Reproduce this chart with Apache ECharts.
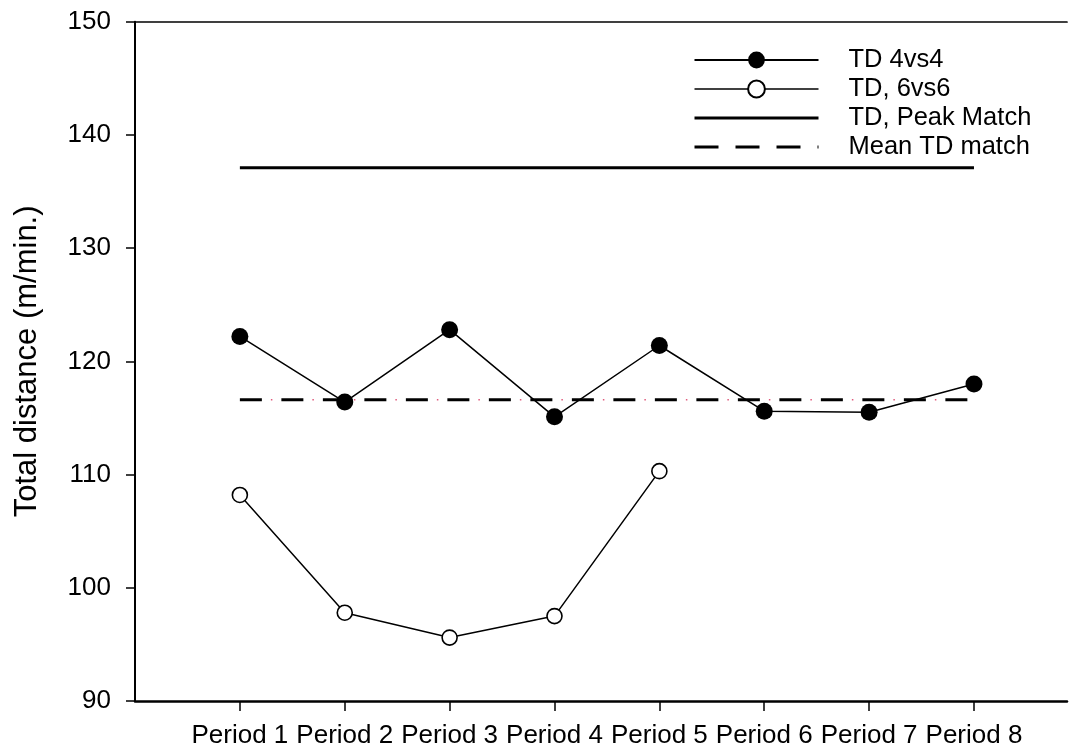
<!DOCTYPE html>
<html>
<head>
<meta charset="utf-8">
<title>Total distance per period</title>
<script src="https://cdn.jsdelivr.net/npm/echarts@6/dist/echarts.min.js"></script>
<style>
  html, body { margin: 0; padding: 0; background: #fff; }
  #chart { width: 1070px; height: 753px; }
</style>
</head>
<body>
<div id="chart"></div>
<script>
// Periods along the x axis
const categories = ['Period 1', 'Period 2', 'Period 3', 'Period 4', 'Period 5', 'Period 6', 'Period 7', 'Period 8'];
// Total distance (m/min.) per period
const td4vs4 = [122.2, 116.4, 122.8, 115.1, 121.4, 115.6, 115.5, 118.0];
const td6vs6 = [108.2, 97.8, 95.6, 97.5, 110.3];
// Match reference levels
const peakMatch = 137.1;
const meanMatch = 116.6;
// Y axis ticks
const yTicks = [90, 100, 110, 120, 130, 140, 150];

const FONT = '"Liberation Sans", Arial, Helvetica, sans-serif';
const positions = categories.map((c, i) => i + 1);
const toPoints = arr => arr.map((v, i) => [i + 1, v]);
const levelLine = v => [[1, v], [categories.length, v]];
// legend entries for plain lines carry no marker
const noMarker = { color: 'rgba(0,0,0,0)', borderWidth: 0, opacity: 0 };

const chart = echarts.init(document.getElementById('chart'), null, { renderer: 'canvas' });

chart.setOption({
  animation: false,
  backgroundColor: '#fff',
  grid: { left: 135, top: 21.7, right: 3, bottom: 52, containLabel: false },
  legend: {
    orient: 'vertical',
    left: 688,
    top: 40.5,
    itemWidth: 124,
    itemHeight: 21,
    itemGap: 0,
    selectedMode: false,
    data: [
      { name: 'TD 4vs4', lineStyle: { width: 1.8 } },
      { name: 'TD, 6vs6', lineStyle: { width: 1.6 } },
      { name: 'TD, Peak Match', itemStyle: noMarker, lineStyle: { width: 3 } },
      { name: 'Mean TD match', itemStyle: noMarker, lineStyle: { width: 3, type: [24, 17] } }
    ],
    textStyle: { fontSize: 25.5, fontFamily: FONT, color: '#000', lineHeight: 29, padding: [0, 0, 0, 25] }
  },
  xAxis: [
    {
      type: 'value',
      min: 0,
      max: 8.887,
      interval: 1,
      position: 'bottom',
      splitLine: { show: false },
      axisLine: { show: true, lineStyle: { color: '#000', width: 2.5 } },
      axisTick: { show: true, inside: false, length: 10, lineStyle: { color: '#000', width: 1.5 }, customValues: positions },
      axisLabel: {
        margin: 22,
        fontSize: 26,
        fontFamily: FONT,
        color: '#000',
        customValues: positions,
        formatter: v => categories[Math.round(v) - 1] || ''
      }
    },
    {
      type: 'value',
      min: 0,
      max: 8.887,
      position: 'top',
      splitLine: { show: false },
      axisLine: { show: true, lineStyle: { color: '#000', width: 1.7 } },
      axisTick: { show: false },
      axisLabel: { show: false }
    }
  ],
  yAxis: {
    type: 'value',
    min: yTicks[0],
    max: yTicks[yTicks.length - 1],
    interval: 10,
    name: 'Total distance (m/min.)',
    nameLocation: 'middle',
    nameRotate: 90,
    nameGap: 92,
    nameTextStyle: { fontSize: 31, fontFamily: FONT, color: '#000' },
    splitLine: { show: false },
    axisLine: { show: true, lineStyle: { color: '#000', width: 2 } },
    axisTick: { show: true, inside: false, length: 9, lineStyle: { color: '#000', width: 1.5 } },
    axisLabel: { margin: 24, fontSize: 26, fontFamily: FONT, color: '#000' }
  },
  series: [
    {
      name: 'Mean TD match',
      type: 'line',
      data: levelLine(meanMatch),
      symbol: 'none',
      silent: true,
      z: 1,
      lineStyle: { color: '#000', width: 3, type: [22, 19.5] },
      itemStyle: { color: '#000' }
    },
    {
      // small red dots sitting in the gaps of the dash pattern
      name: 'meanDots',
      type: 'line',
      data: levelLine(meanMatch),
      symbol: 'none',
      silent: true,
      z: 1,
      lineStyle: { color: '#e05a7c', width: 1.5, type: [1.5, 40], dashOffset: 10.5 }
    },
    {
      name: 'TD, Peak Match',
      type: 'line',
      data: levelLine(peakMatch),
      symbol: 'none',
      silent: true,
      z: 2,
      lineStyle: { color: '#000', width: 3 },
      itemStyle: { color: '#000' }
    },
    {
      name: 'TD 4vs4',
      type: 'line',
      data: toPoints(td4vs4),
      symbol: 'circle',
      symbolSize: 17,
      z: 3,
      lineStyle: { color: '#000', width: 1.5 },
      itemStyle: { color: '#000', borderColor: '#000', borderWidth: 0 },
      emphasis: { disabled: true }
    },
    {
      name: 'TD, 6vs6',
      type: 'line',
      data: toPoints(td6vs6),
      symbol: 'circle',
      symbolSize: 15,
      z: 3,
      lineStyle: { color: '#000', width: 1.5 },
      itemStyle: { color: '#fff', borderColor: '#000', borderWidth: 1.6 },
      emphasis: { disabled: true }
    }
  ]
});
</script>
</body>
</html>
